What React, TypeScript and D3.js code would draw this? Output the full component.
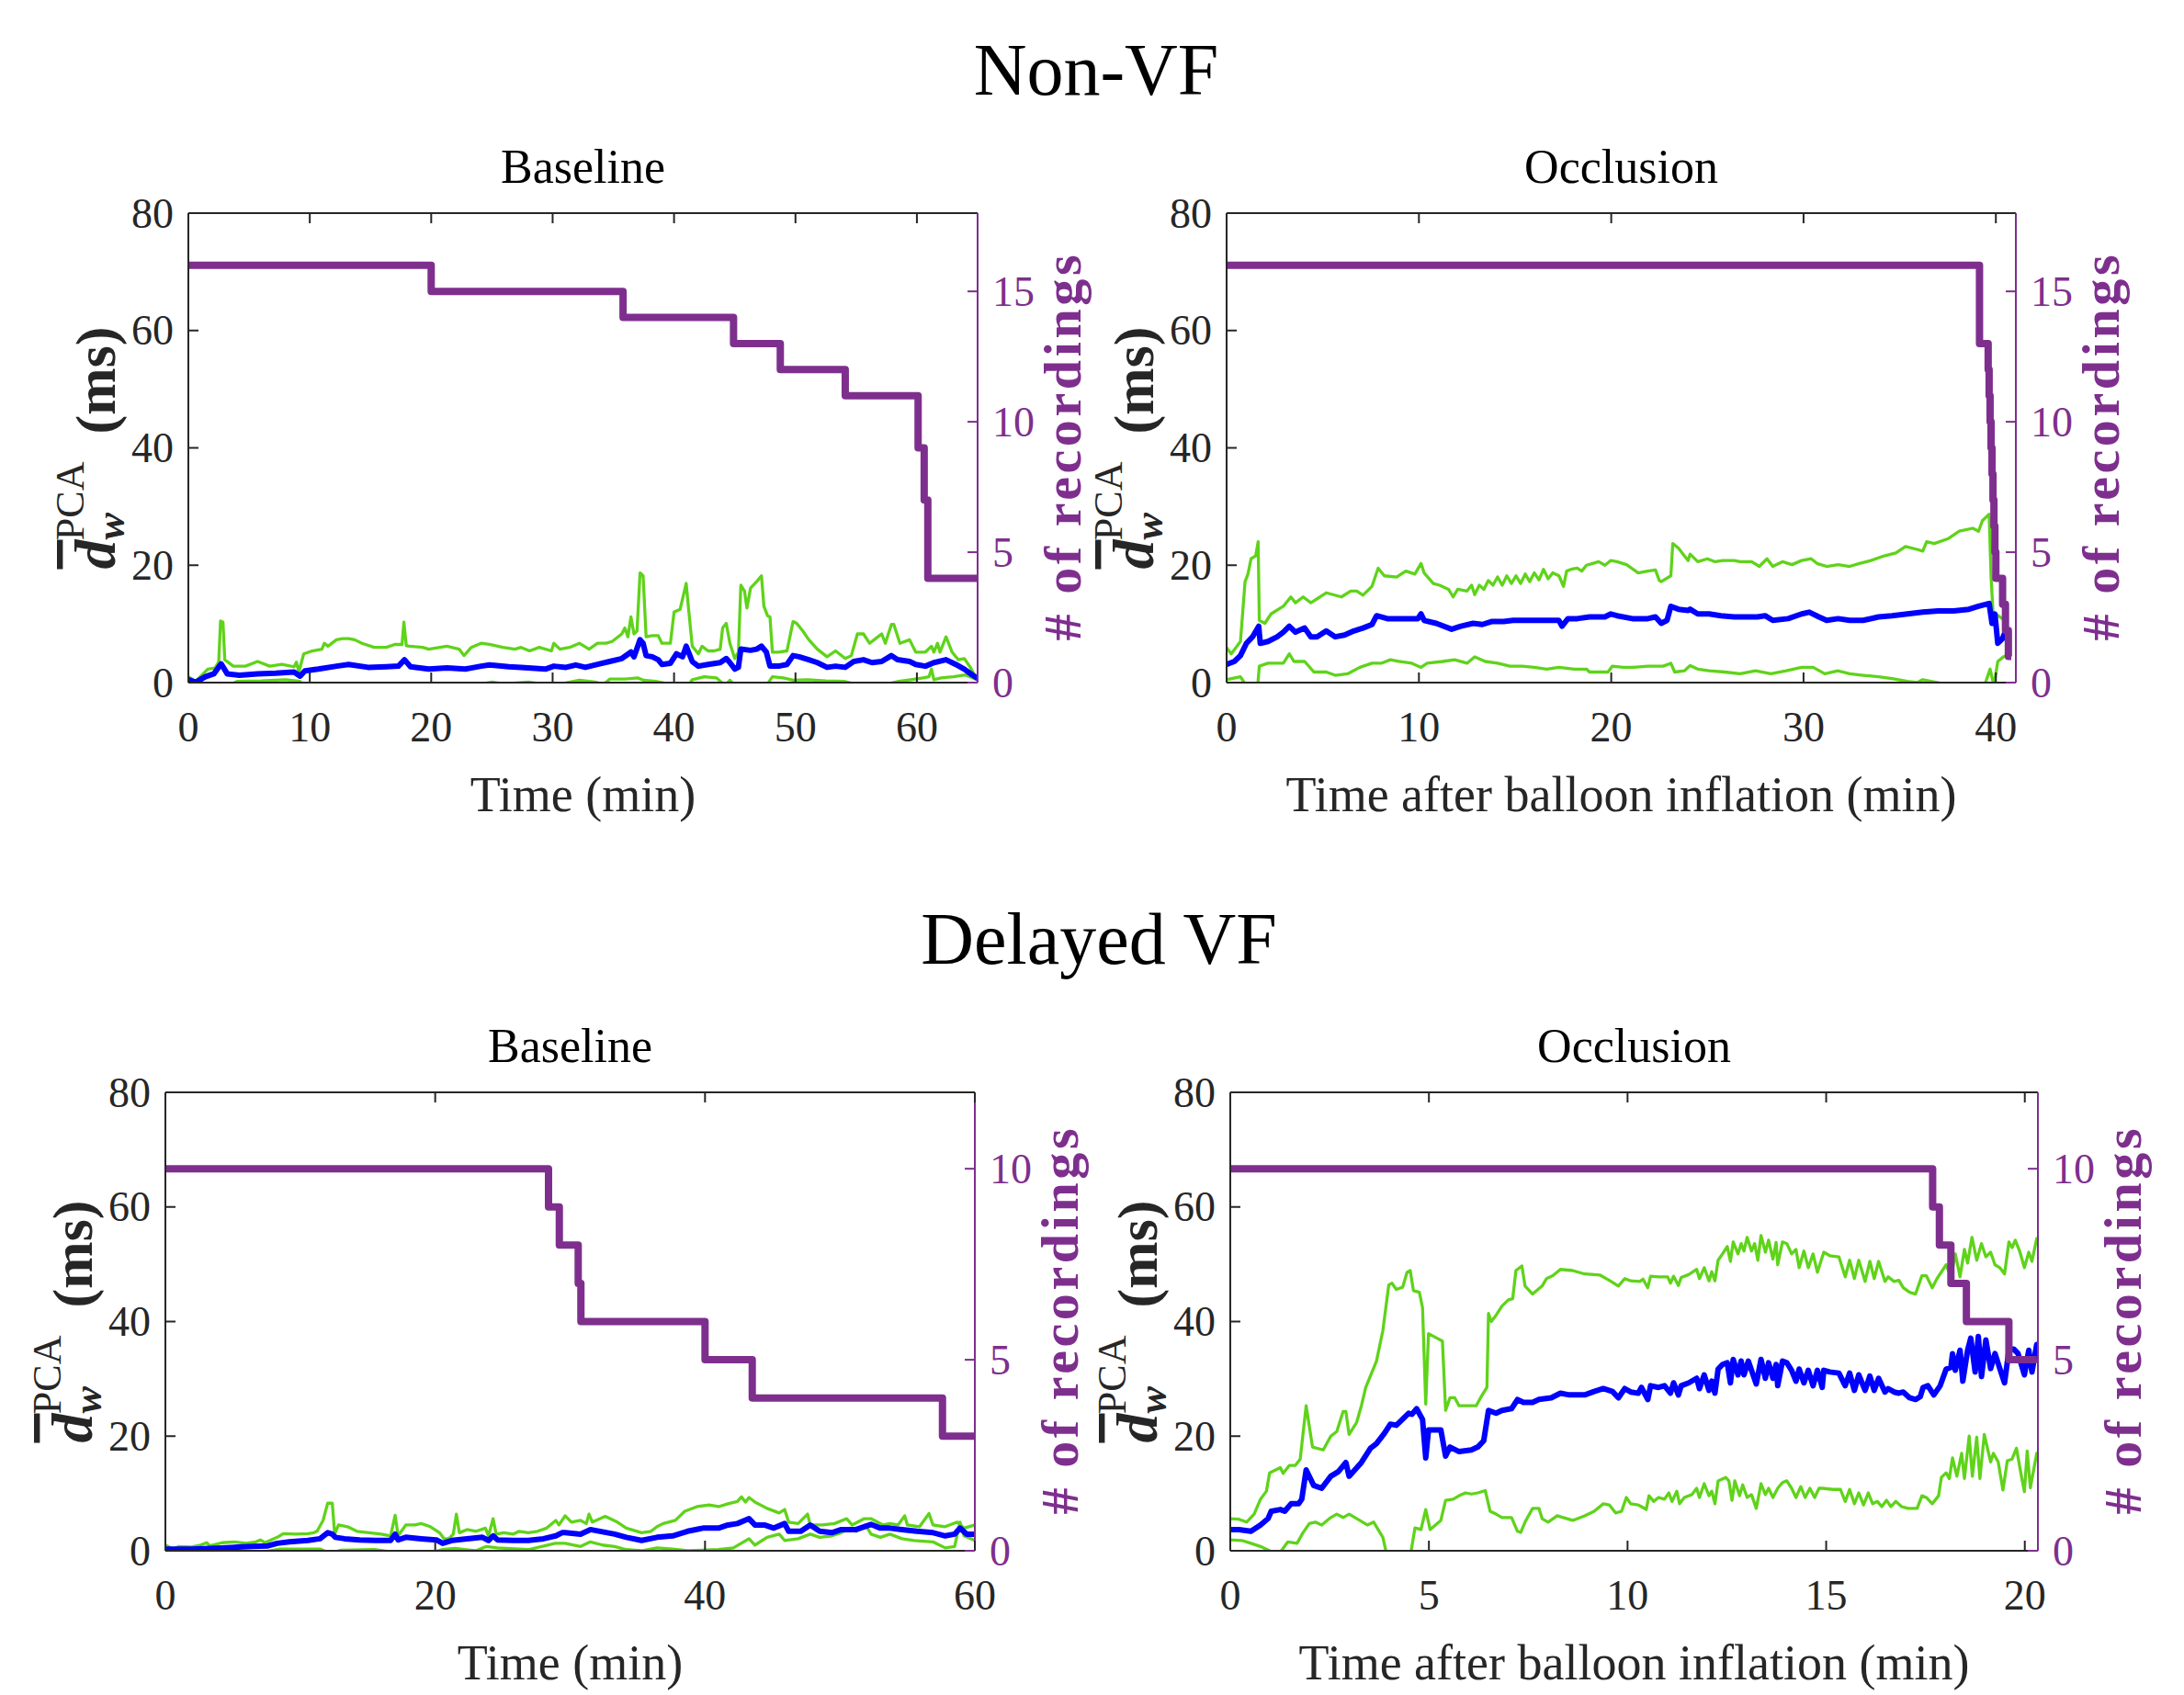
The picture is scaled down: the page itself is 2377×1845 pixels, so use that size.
import React from 'react';
import * as d3 from 'd3';

type Pt = [number, number];

// ---- Non-VF, Baseline ----
const nvBaseUpper: Pt[] = [
  [0, 1.0], [0.6, 0.2], [1.6, 2.3], [2.2, 2.5], [2.5, 3.5], [2.65, 10.5], [2.85, 10.3], [3.0, 3.9], [3.7, 2.8], [4.7, 2.8],
  [5.7, 3.6], [6.7, 2.8], [7.7, 3.1], [8.7, 2.7], [8.9, 3.5], [9.1, 1.8], [9.5, 4.9], [10.2, 5.4], [11.0, 5.7], [11.2, 6.7],
  [11.5, 6.2], [12.2, 7.3], [12.7, 7.5], [13.2, 7.5], [13.7, 7.3], [14.3, 6.7], [15.3, 6.0], [16.3, 6.0], [17.0, 6.5], [17.6, 6.5],
  [17.75, 10.3], [17.95, 6.3], [18.2, 6.2], [19.3, 6.0], [19.8, 5.7], [21.3, 6.2], [22.3, 5.7], [22.7, 4.6], [23.3, 6.0], [24.1, 6.7],
  [24.8, 6.5], [25.9, 6.0], [26.9, 5.7], [27.4, 6.0], [28.1, 5.4], [28.9, 6.0], [29.9, 5.4], [30.1, 6.7], [30.6, 5.7], [31.4, 6.0],
  [32.2, 6.7], [33.0, 5.7], [33.7, 6.7], [34.4, 6.7], [34.9, 7.0], [35.7, 8.3], [35.95, 9.3], [36.2, 7.8], [36.45, 11.2], [36.7, 8.3],
  [36.95, 8.8], [37.2, 18.7], [37.45, 18.2], [37.7, 7.8], [38.2, 8.0], [38.7, 8.0], [39.0, 6.7], [39.7, 6.7], [40.0, 12.0], [40.5, 12.5],
  [41.0, 16.9], [41.2, 12.5], [41.5, 6.2], [42.0, 4.9], [42.3, 6.2], [42.8, 5.4], [43.3, 5.4], [43.8, 5.7], [44.0, 9.3], [44.3, 10.1],
  [44.6, 6.7], [45.0, 4.1], [45.3, 5.2], [45.5, 16.6], [45.8, 15.6], [46.0, 12.7], [46.3, 16.1], [46.8, 17.2], [47.2, 18.2], [47.4, 13.0],
  [47.7, 11.4], [47.9, 11.2], [48.1, 5.2], [48.6, 5.2], [49.3, 5.4], [49.8, 10.4], [50.1, 10.1], [50.6, 8.8], [51.1, 7.3], [51.8, 5.7],
  [52.6, 4.4], [53.3, 5.4], [54.1, 4.1], [54.6, 4.6], [55.1, 8.3], [55.6, 8.3], [56.1, 6.7], [56.6, 7.5], [57.1, 8.3], [57.4, 6.7],
  [57.9, 9.9], [58.1, 9.9], [58.6, 6.7], [59.4, 7.3], [59.9, 5.2], [60.7, 5.2], [61.2, 6.2], [61.4, 5.2], [61.7, 6.7], [61.9, 5.2],
  [62.4, 7.8], [62.9, 5.2], [63.4, 3.9], [63.9, 4.1], [64.4, 2.6], [64.95, 0.5],
];
const nvBaseMean: Pt[] = [
  [0, 0.5], [0.6, 0.05], [1.4, 1.0], [2.1, 1.5], [2.7, 3.2], [3.2, 1.5], [4.2, 1.25], [5.7, 1.5], [7.2, 1.6], [8.7, 1.8],
  [9.2, 1.1], [9.6, 2.0], [10.7, 2.3], [12.2, 2.8], [13.2, 3.1], [14.8, 2.6], [16.3, 2.7], [17.3, 2.8], [17.8, 3.9], [18.3, 2.7],
  [19.8, 2.3], [21.3, 2.5], [22.8, 2.3], [24.1, 2.8], [24.8, 3.0], [26.4, 2.7], [27.4, 2.6], [29.4, 2.3], [30.1, 2.8], [31.1, 2.6],
  [31.9, 3.0], [32.7, 2.6], [33.7, 3.1], [34.7, 3.6], [35.7, 4.1], [36.45, 5.2], [36.7, 4.4], [37.2, 7.3], [37.45, 6.7], [37.7, 4.6],
  [38.2, 4.4], [38.7, 3.9], [39.0, 3.1], [39.7, 3.3], [40.2, 4.9], [40.7, 4.4], [41.0, 6.2], [41.5, 3.6], [42.0, 2.8], [42.8, 3.1],
  [43.8, 3.4], [44.3, 4.1], [44.6, 3.4], [45.0, 2.3], [45.3, 2.6], [45.5, 5.7], [46.3, 5.5], [46.8, 5.7], [47.2, 6.2], [47.6, 5.2],
  [47.9, 2.8], [48.6, 2.8], [49.3, 3.1], [49.8, 4.6], [50.3, 4.4], [51.1, 3.9], [51.8, 3.4], [52.6, 2.6], [53.3, 2.8], [54.1, 2.6],
  [54.8, 3.6], [55.6, 3.9], [56.3, 3.4], [57.1, 3.6], [57.9, 4.6], [58.4, 3.9], [59.4, 3.6], [59.9, 3.1], [60.7, 2.8], [61.4, 3.4],
  [62.4, 3.9], [63.2, 3.1], [63.9, 2.3], [64.6, 1.25], [64.95, 0.8],
];
const nvBaseLower: Pt[] = [
  [0, 0.5], [0.6, -0.5], [3.5, -0.3], [4.0, 0.2], [6.0, 0.3], [8.0, 0.5], [9.2, 0.2], [9.5, -0.5], [15, -1.0], [24, -0.3],
  [25, 0.1], [26, -0.2], [28, 0.1], [30, -0.5], [32.2, 0.4], [33.5, 0.1], [34.2, -0.3], [34.7, 0.6], [36, 0.6], [37, 0.8],
  [37.5, 0.4], [38.5, 0.2], [39.5, -0.2], [41, -1.0], [41.5, 0.5], [42.5, 1.0], [43.5, 0.8], [44.2, -0.5], [44.6, 0.4], [45, -0.5],
  [46, -1.5], [47.5, -0.8], [48.1, 1.0], [49, 0.8], [49.8, 0.4], [51, 0.5], [52.5, 0.3], [54, 0.2], [55, -0.3], [57, -0.5],
  [58.5, 0.2], [59.5, 0.5], [60.5, 0.8], [61, 1.0], [61.2, 2.3], [61.4, 0.5], [62, 0.8], [63, 1.0], [64, 1.3], [64.95, 0.5],
];
const nvBaseCount: Pt[] = [[0, 16], [20.0, 15], [35.8, 14], [44.9, 13], [48.75, 12], [54.1, 11], [60.1, 9], [60.6, 7], [60.9, 4], [65, 4]];

// ---- Non-VF, Occlusion ----
const nvOccUpper: Pt[] = [
  [0, 5.95], [0.24, 4.9], [0.72, 7.0], [0.96, 17.2], [1.11, 18.5], [1.27, 21.1], [1.51, 21.6], [1.64, 24.0], [1.7, 10.6], [1.99, 10.1],
  [2.31, 11.7], [2.95, 13.0], [3.34, 14.6], [3.58, 13.6], [3.98, 14.6], [4.38, 13.6], [4.86, 14.6], [5.18, 15.3], [5.97, 14.6], [6.45, 15.6],
  [6.77, 15.6], [7.09, 14.9], [7.56, 16.4], [7.88, 19.5], [8.2, 18.2], [8.84, 18.0], [9.32, 19.0], [9.79, 18.5], [10.11, 20.3], [10.27, 18.7],
  [10.75, 16.9], [11.07, 16.6], [11.54, 15.9], [11.78, 14.6], [12.02, 15.9], [12.5, 15.6], [12.74, 16.6], [12.9, 15.0], [13.14, 16.6], [13.38, 15.9],
  [13.61, 17.4], [13.85, 16.6], [14.09, 18.0], [14.33, 16.6], [14.57, 18.2], [14.81, 16.9], [15.05, 18.2], [15.29, 16.9], [15.53, 18.5], [15.76, 17.2],
  [16.0, 18.7], [16.24, 17.5], [16.48, 19.3], [16.72, 17.7], [16.96, 18.7], [17.28, 18.2], [17.52, 16.4], [17.68, 19.0], [17.91, 19.3], [18.23, 19.5],
  [18.47, 19.0], [18.71, 20.0], [19.03, 20.3], [19.35, 20.6], [19.67, 20.0], [19.98, 20.8], [20.3, 20.6], [20.8, 20.1], [21.4, 18.7], [21.9, 19.0],
  [22.3, 19.2], [22.5, 17.4], [22.6, 17.2], [23.1, 18.2], [23.2, 23.7], [23.5, 22.9], [23.8, 21.6], [24.0, 20.8], [24.1, 21.9], [24.5, 20.6],
  [25.0, 21.1], [25.4, 20.6], [25.8, 20.8], [26.4, 20.8], [26.7, 20.6], [27.3, 20.6], [27.7, 19.8], [28.1, 21.1], [28.4, 19.8], [28.9, 20.6],
  [29.4, 20.1], [29.9, 20.8], [30.4, 21.1], [30.7, 20.3], [31.2, 19.8], [31.8, 20.1], [32.4, 19.8], [32.9, 20.3], [33.5, 20.8], [34.2, 21.6],
  [34.8, 22.1], [35.3, 23.2], [35.9, 22.7], [36.2, 22.4], [36.4, 24.0], [36.8, 23.7], [37.5, 24.5], [38.1, 25.8], [38.8, 26.3], [39.1, 25.8],
  [39.3, 27.6], [39.65, 28.7], [39.75, 18.2], [39.85, 12.0], [40.2, 11.2], [40.5, 10.5],
];
const nvOccMean: Pt[] = [
  [0, 3.1], [0.4, 3.6], [0.72, 4.6], [1.03, 6.7], [1.35, 7.8], [1.67, 9.6], [1.75, 6.7], [2.15, 7.0], [2.63, 7.8], [2.95, 8.6],
  [3.26, 9.6], [3.58, 8.6], [4.06, 9.3], [4.38, 7.8], [4.7, 7.8], [5.18, 8.8], [5.65, 7.8], [6.13, 8.1], [6.61, 8.8], [7.09, 9.3],
  [7.56, 9.9], [7.8, 11.4], [8.36, 10.9], [9.32, 10.9], [9.95, 10.9], [10.11, 11.7], [10.27, 10.6], [10.9, 10.1], [11.7, 9.1], [12.18, 9.6],
  [12.82, 10.1], [13.3, 9.9], [13.77, 10.4], [14.41, 10.4], [14.89, 10.6], [15.68, 10.6], [16.48, 10.6], [17.28, 10.6], [17.44, 9.6], [17.75, 10.9],
  [18.23, 10.9], [18.87, 11.2], [19.67, 11.2], [19.98, 11.7], [20.3, 11.4], [21.1, 10.9], [21.9, 10.9], [22.3, 11.2], [22.6, 10.1], [22.9, 10.6],
  [23.1, 13.0], [23.5, 12.5], [24.0, 12.3], [24.1, 12.5], [24.5, 11.7], [25.1, 11.7], [25.7, 11.4], [26.4, 11.2], [27.0, 11.2], [27.6, 11.2],
  [28.0, 11.4], [28.4, 10.6], [29.2, 10.9], [29.9, 11.7], [30.3, 12.0], [30.8, 11.2], [31.2, 10.6], [31.8, 10.9], [32.4, 10.6], [33.1, 10.6],
  [33.9, 11.2], [34.6, 11.4], [35.4, 11.7], [36.2, 12.0], [37.0, 12.2], [37.8, 12.2], [38.6, 12.5], [39.1, 13.0], [39.65, 13.5], [39.8, 10.1],
  [39.95, 11.7], [40.1, 6.7], [40.35, 7.5], [40.5, 8.8],
];
const nvOccLower: Pt[] = [
  [0, 0.5], [0.72, 1.0], [0.88, 0.2], [0.96, -1.6], [1.59, -1.6], [1.7, 2.8], [2.15, 3.3], [2.95, 3.3], [3.26, 4.9], [3.5, 3.6],
  [4.06, 3.6], [4.54, 1.8], [5.18, 1.8], [5.65, 1.25], [6.29, 1.5], [6.93, 2.6], [7.56, 3.3], [8.04, 3.3], [8.52, 3.9], [9.0, 3.6],
  [9.63, 3.3], [10.11, 2.6], [10.43, 3.3], [11.23, 3.6], [11.86, 3.9], [12.5, 3.3], [12.9, 4.4], [13.45, 3.6], [14.09, 3.3], [14.73, 2.8],
  [15.37, 2.8], [16.0, 2.6], [16.64, 2.3], [17.28, 2.6], [18.07, 2.3], [18.71, 2.3], [18.87, 1.8], [19.83, 1.8], [20.06, 2.8], [20.62, 2.6],
  [21.1, 2.6], [21.9, 2.8], [22.7, 2.8], [23.1, 3.3], [23.3, 1.8], [23.8, 2.0], [24.1, 2.9], [24.5, 2.3], [25.1, 2.0], [25.9, 1.8],
  [26.7, 1.5], [27.5, 2.0], [28.3, 1.5], [29.1, 2.0], [29.9, 2.6], [30.5, 2.6], [31.1, 1.5], [31.8, 2.0], [32.4, 1.5], [33.1, 1.25],
  [33.9, 1.0], [34.6, 0.7], [35.4, 0.2], [35.9, 0], [36.2, 0.5], [37.0, 0], [37.8, -0.6], [39.4, -0.6], [39.7, 2.3], [39.9, -0.5],
  [40.1, 3.6], [40.4, 4.4], [40.7, 4.9],
];
const nvOccCount: Pt[] = [
  [0, 16], [39.15, 13], [39.6, 12], [39.65, 11], [39.7, 10], [39.75, 9], [39.8, 8], [39.85, 7], [39.9, 6], [39.95, 5],
  [40.0, 4], [40.35, 3], [40.5, 2], [40.65, 1], [40.8, 1],
];

// ---- Delayed VF, Baseline ----
const dvBaseUpper: Pt[] = [
  [0, 1.0], [0.57, 0.3], [1.02, 0.75], [1.93, 0.65], [2.61, 1.0], [3.06, 1.4], [3.29, 0.85], [4.2, 1.4], [5.1, 1.55], [6.0, 1.3],
  [6.7, 1.55], [7.04, 1.9], [7.38, 1.4], [7.83, 1.9], [8.29, 2.35], [8.74, 3.0], [9.65, 2.9], [10.56, 3.0], [11.01, 3.15], [11.24, 3.4],
  [11.69, 5.3], [12.03, 8.3], [12.37, 8.3], [12.55, 2.9], [12.83, 4.5], [13.5, 4.2], [14.19, 3.4], [15.1, 3.15], [16.0, 2.9], [16.69, 2.6],
  [17.03, 6.2], [17.25, 2.6], [17.82, 4.5], [18.5, 4.5], [18.96, 4.75], [19.64, 4.2], [20.32, 3.15], [20.66, 2.1], [21.0, 2.1], [21.34, 2.9],
  [21.57, 6.4], [21.79, 3.15], [22.36, 3.7], [23.04, 3.4], [23.72, 3.95], [23.95, 2.6], [24.29, 5.6], [24.52, 2.9], [25.08, 3.15], [25.77, 2.9],
  [26.22, 3.4], [26.9, 3.15], [27.58, 3.4], [28.26, 3.95], [28.94, 5.3], [29.17, 4.5], [29.63, 6.1], [30.1, 5.0], [30.77, 5.3], [31.2, 4.75],
  [31.4, 6.4], [31.65, 5.0], [32.6, 6.0], [33.5, 5.0], [34.17, 3.95], [35.3, 3.15], [36.0, 3.4], [36.44, 4.2], [36.9, 4.75], [37.8, 5.3],
  [38.5, 6.9], [39.4, 7.7], [40.3, 8.0], [41.0, 7.7], [41.7, 8.2], [42.4, 8.6], [42.7, 9.4], [43.0, 8.5], [43.26, 9.3], [43.7, 8.5],
  [44.6, 7.4], [45.5, 6.6], [45.9, 7.2], [46.2, 5.0], [46.9, 4.75], [47.6, 6.4], [47.8, 4.5], [48.7, 4.5], [49.6, 4.75], [50.5, 5.6],
  [50.9, 4.5], [51.8, 5.6], [52.3, 5.6], [53.2, 4.5], [53.7, 4.75], [54.3, 4.5], [54.8, 6.1], [55.0, 4.5], [55.9, 4.2], [56.6, 6.5],
  [56.9, 4.5], [57.8, 4.2], [58.7, 5.0], [59.2, 3.95], [60.0, 4.5],
];
const dvBaseMean: Pt[] = [
  [0, 0.3], [1.93, 0.3], [4.2, 0.5], [6.47, 0.75], [7.6, 0.85], [8.29, 1.3], [9.2, 1.55], [10.56, 1.8], [11.46, 2.1], [12.03, 3.15],
  [12.37, 2.9], [12.6, 2.35], [13.28, 2.1], [14.4, 1.9], [15.55, 1.8], [16.69, 1.8], [17.03, 2.9], [17.25, 1.9], [17.82, 2.35], [18.96, 2.1],
  [20.09, 1.9], [20.55, 1.3], [21.23, 1.8], [22.36, 2.1], [23.5, 2.35], [23.95, 1.8], [24.29, 2.6], [24.63, 1.9], [25.77, 1.8], [26.9, 1.8],
  [28.03, 2.1], [28.94, 2.6], [29.4, 3.15], [29.63, 3.15], [30.77, 2.9], [31.5, 3.7], [32.4, 3.3], [33.3, 2.9], [34.17, 2.35], [35.3, 1.8],
  [36.44, 2.35], [37.6, 2.6], [38.7, 3.4], [39.85, 3.95], [41.0, 3.95], [41.7, 4.5], [42.4, 4.75], [43.26, 5.6], [43.7, 4.5], [44.4, 4.5],
  [45.1, 3.95], [45.9, 4.75], [46.2, 3.4], [47.1, 3.4], [47.8, 4.5], [48.5, 3.4], [49.4, 3.15], [50.1, 3.7], [51.2, 3.7], [52.3, 4.6],
  [53.0, 3.95], [53.7, 3.95], [54.6, 3.7], [55.7, 3.4], [56.9, 3.15], [57.8, 2.6], [58.5, 2.9], [58.9, 3.95], [59.4, 2.9], [60.0, 2.9],
];
const dvBaseLower: Pt[] = [
  [0, 0.85], [0.57, 0], [2, -0.3], [4, -0.5], [7, -0.3], [8.5, 0.3], [11.5, 0.3], [12.2, -0.5], [13, 0.1], [15.5, 0.2],
  [17, -0.3], [19.5, -0.5], [20.5, 0.2], [21.5, 0.4], [23, 0], [23.8, 0.75], [24.6, 0.5], [26.9, 0.2], [28.9, 1.3], [29.63, 1.3],
  [30.77, 0.75], [31.5, 1.55], [32.4, 1.0], [33.3, 0.75], [34.17, 0.2], [35.3, 0], [36.44, 0.5], [37.58, 0.3], [38.71, 0], [40.98, 0.2],
  [42.1, 0.5], [43.26, 2.1], [43.7, 1.0], [44.6, 2.35], [45.5, 2.9], [45.9, 1.8], [46.9, 2.1], [47.8, 2.9], [48.5, 2.35], [49.4, 2.6],
  [50.1, 3.15], [50.8, 3.95], [51.2, 3.4], [51.9, 4.5], [52.3, 2.9], [53.0, 2.35], [53.7, 2.9], [54.6, 2.1], [55.5, 1.8], [56.9, 1.55],
  [57.8, 0.5], [58.5, 0.75], [58.9, 5.0], [59.2, 2.6], [60.0, 1.8],
];
const dvBaseCount: Pt[] = [[0, 10], [28.4, 9], [29.2, 8], [30.6, 7], [30.8, 6], [40.0, 5], [43.5, 4], [57.6, 3], [60, 3]];

// ---- Delayed VF, Occlusion ----
const dvOccUpper: Pt[] = [
  [0, 5.6], [0.22, 5.5], [0.41, 5.0], [0.6, 6.4], [0.76, 9.0], [0.91, 10.4], [0.99, 13.6], [1.26, 14.5], [1.33, 13.5], [1.49, 14.9],
  [1.64, 14.9], [1.76, 16.0], [1.91, 25.3], [2.07, 18.1], [2.34, 17.6], [2.53, 20.0], [2.68, 20.8], [2.84, 24.3], [2.91, 24.3], [2.99, 20.3],
  [3.18, 22.4], [3.3, 25.3], [3.41, 28.5], [3.68, 33.1], [3.84, 38.4], [3.99, 46.4], [4.07, 46.7], [4.18, 45.6], [4.34, 46.0], [4.45, 48.6],
  [4.53, 48.9], [4.61, 45.4], [4.76, 45.1], [4.84, 42.4], [4.92, 25.6], [4.99, 37.9], [5.15, 37.3], [5.34, 36.6], [5.42, 24.5], [5.53, 26.7],
  [5.65, 26.7], [5.76, 25.3], [6.19, 25.3], [6.3, 26.7], [6.46, 28.5], [6.5, 41.4], [6.57, 40.0], [6.69, 41.1], [6.84, 42.7], [7.0, 43.8],
  [7.11, 44.0], [7.19, 48.9], [7.34, 49.7], [7.42, 46.2], [7.61, 44.8], [7.85, 46.2], [7.96, 47.5], [8.12, 48.0], [8.31, 49.1], [8.62, 48.9],
  [8.92, 48.3], [9.31, 48.1], [9.54, 47.2], [9.77, 46.2], [9.93, 47.5], [10.08, 47.1], [10.31, 47.0], [10.39, 47.4], [10.51, 45.9], [10.58, 47.9],
  [10.78, 47.8], [11.01, 47.8], [11.08, 46.7], [11.16, 47.9], [11.28, 46.3], [11.35, 47.7], [11.54, 48.2], [11.74, 49.1], [11.81, 47.5], [11.93, 49.4],
  [12.05, 47.1], [12.12, 48.7], [12.2, 47.1], [12.28, 50.7], [12.39, 51.8], [12.51, 53.1], [12.59, 50.5], [12.66, 53.9], [12.78, 51.8], [12.86, 53.6],
  [12.93, 52.3], [13.01, 54.7], [13.12, 52.3], [13.2, 53.6], [13.28, 50.7], [13.36, 55.0], [13.47, 52.1], [13.55, 54.2], [13.66, 50.9], [13.74, 53.8],
  [13.78, 49.9], [13.9, 53.9], [14.01, 53.6], [14.13, 51.8], [14.24, 52.6], [14.32, 49.4], [14.44, 52.3], [14.55, 49.4], [14.67, 51.8], [14.78, 48.6],
  [14.94, 52.1], [15.09, 51.5], [15.32, 51.3], [15.48, 47.8], [15.59, 50.7], [15.71, 47.5], [15.82, 50.7], [15.98, 47.0], [16.1, 50.5], [16.21, 47.5],
  [16.32, 50.5], [16.48, 47.0], [16.56, 47.8], [16.71, 47.0], [16.83, 47.2], [16.94, 45.9], [17.1, 45.1], [17.25, 44.8], [17.41, 48.0], [17.52, 48.0],
  [17.67, 45.9], [17.79, 47.5], [18.02, 49.9], [18.14, 47.8], [18.25, 51.8], [18.37, 47.8], [18.48, 52.6], [18.56, 50.2], [18.67, 54.7], [18.79, 50.7],
  [18.91, 53.6], [19.02, 51.3], [19.14, 52.1], [19.25, 49.9], [19.37, 49.4], [19.49, 48.3], [19.6, 53.9], [19.68, 52.9], [19.76, 54.2], [19.87, 52.3],
  [19.99, 49.4], [20.1, 52.1], [20.18, 50.5], [20.3, 54.5],
];
const dvOccMean: Pt[] = [
  [0, 3.7], [0.22, 3.7], [0.52, 3.4], [0.76, 4.5], [0.95, 5.6], [1.03, 6.9], [1.26, 7.2], [1.37, 6.9], [1.53, 8.2], [1.72, 8.2],
  [1.8, 9.0], [1.91, 14.1], [2.1, 11.4], [2.3, 10.9], [2.53, 13.0], [2.72, 13.8], [2.91, 15.4], [2.99, 13.0], [3.3, 15.4], [3.53, 17.9],
  [3.68, 18.7], [3.88, 20.5], [4.03, 22.1], [4.18, 21.9], [4.3, 22.7], [4.49, 24.0], [4.57, 23.8], [4.69, 24.8], [4.84, 22.9], [4.92, 16.2],
  [4.99, 21.1], [5.3, 21.1], [5.42, 16.5], [5.53, 18.1], [5.76, 17.3], [6.07, 17.6], [6.23, 18.1], [6.38, 19.2], [6.5, 24.5], [6.69, 24.0],
  [6.84, 24.5], [7.08, 24.8], [7.23, 26.4], [7.38, 25.9], [7.61, 25.9], [7.77, 26.4], [8.08, 26.7], [8.31, 27.5], [8.54, 27.2], [8.92, 27.2],
  [9.16, 27.8], [9.39, 28.3], [9.62, 27.8], [9.77, 26.7], [9.93, 28.3], [10.08, 27.7], [10.27, 27.5], [10.35, 28.5], [10.51, 26.4], [10.58, 28.8],
  [10.78, 28.5], [10.93, 28.8], [11.08, 27.5], [11.16, 29.3], [11.28, 27.2], [11.35, 28.8], [11.54, 29.3], [11.74, 30.1], [11.81, 28.3], [11.93, 30.7],
  [12.05, 28.0], [12.12, 29.6], [12.2, 27.5], [12.28, 31.7], [12.39, 32.5], [12.51, 32.8], [12.59, 29.3], [12.66, 33.4], [12.78, 30.7], [12.86, 33.1],
  [12.93, 30.7], [13.04, 33.1], [13.24, 29.1], [13.36, 33.4], [13.47, 30.1], [13.55, 32.8], [13.66, 30.1], [13.74, 32.5], [13.78, 28.8], [13.9, 33.1],
  [14.01, 32.8], [14.13, 31.5], [14.24, 29.6], [14.32, 31.7], [14.44, 29.3], [14.55, 31.5], [14.67, 28.8], [14.78, 31.5], [14.9, 28.5], [14.94, 31.5],
  [15.09, 31.2], [15.32, 31.0], [15.48, 28.8], [15.59, 31.0], [15.71, 28.0], [15.82, 30.7], [15.98, 28.0], [16.1, 30.5], [16.21, 28.0], [16.32, 30.1],
  [16.48, 27.7], [16.56, 28.3], [16.71, 27.7], [16.83, 27.5], [16.94, 27.7], [17.1, 26.7], [17.25, 26.4], [17.37, 26.9], [17.44, 28.5], [17.56, 28.8],
  [17.71, 27.2], [17.87, 28.8], [18.02, 31.7], [18.14, 32.0], [18.18, 34.4], [18.25, 31.5], [18.37, 35.0], [18.44, 29.6], [18.56, 35.0], [18.64, 37.1],
  [18.75, 31.2], [18.83, 37.4], [18.91, 30.4], [19.02, 36.8], [19.14, 31.8], [19.25, 34.4], [19.37, 31.8], [19.49, 29.3], [19.6, 35.0], [19.72, 35.2],
  [19.83, 34.4], [19.99, 30.7], [20.1, 35.0], [20.18, 31.2], [20.3, 36.0],
];
const dvOccLower: Pt[] = [
  [0, 1.9], [0.29, 1.8], [0.52, 1.3], [0.76, 0.75], [0.99, 0], [1.22, -0.6], [1.45, 1.55], [1.68, 1.3], [1.83, 3.15], [1.99, 4.75],
  [2.14, 5.0], [2.3, 4.5], [2.53, 5.8], [2.68, 6.4], [2.84, 5.8], [2.99, 6.4], [3.14, 5.8], [3.45, 4.5], [3.61, 5.0], [3.84, 2.35],
  [3.95, -1], [4.2, -3], [4.53, -1], [4.65, 4.0], [4.8, 3.7], [4.92, 7.2], [5.03, 3.7], [5.3, 5.3], [5.42, 8.8], [5.61, 9.0],
  [5.76, 9.6], [5.92, 10.1], [6.07, 9.9], [6.23, 10.1], [6.42, 10.5], [6.54, 6.9], [6.69, 6.4], [6.84, 5.8], [7.08, 5.8], [7.23, 3.4],
  [7.31, 3.2], [7.42, 5.0], [7.61, 7.4], [7.77, 7.4], [7.85, 5.6], [8.0, 5.0], [8.23, 6.1], [8.38, 5.8], [8.62, 5.3], [8.92, 6.1],
  [9.16, 6.9], [9.39, 8.2], [9.54, 8.0], [9.7, 6.6], [9.85, 6.9], [9.97, 9.3], [10.08, 8.2], [10.27, 8.0], [10.35, 7.7], [10.47, 7.2],
  [10.54, 9.6], [10.66, 8.6], [10.78, 9.3], [10.93, 9.0], [11.04, 10.1], [11.12, 8.6], [11.24, 10.4], [11.31, 8.2], [11.43, 9.3], [11.62, 9.8],
  [11.74, 10.9], [11.81, 9.3], [11.93, 11.7], [12.05, 9.6], [12.12, 10.4], [12.2, 8.2], [12.28, 12.2], [12.47, 12.8], [12.55, 12.2], [12.63, 8.8],
  [12.7, 12.2], [12.82, 9.6], [12.9, 11.5], [13.01, 9.3], [13.12, 9.8], [13.24, 7.4], [13.36, 11.7], [13.47, 9.8], [13.55, 10.9], [13.66, 9.3],
  [13.78, 10.9], [13.9, 11.9], [14.01, 12.2], [14.13, 10.9], [14.24, 9.3], [14.36, 11.2], [14.47, 9.3], [14.59, 10.9], [14.71, 9.3], [14.82, 10.9],
  [14.9, 10.9], [15.17, 10.7], [15.36, 10.7], [15.48, 8.6], [15.59, 10.7], [15.71, 8.2], [15.82, 10.1], [15.94, 8.0], [16.06, 10.1], [16.17, 8.2],
  [16.29, 8.6], [16.4, 7.7], [16.52, 8.8], [16.63, 7.7], [16.75, 8.6], [16.9, 7.7], [17.06, 7.4], [17.29, 7.4], [17.41, 9.6], [17.52, 9.3],
  [17.67, 8.2], [17.83, 9.6], [17.9, 12.8], [18.02, 13.6], [18.1, 12.6], [18.18, 16.2], [18.29, 13.0], [18.41, 17.0], [18.48, 12.6], [18.6, 20.0],
  [18.68, 13.0], [18.79, 19.8], [18.87, 12.6], [18.98, 20.3], [19.14, 15.5], [19.21, 17.0], [19.33, 15.5], [19.45, 10.6], [19.56, 15.7], [19.68, 16.0],
  [19.79, 17.9], [19.91, 13.2], [19.99, 10.3], [20.06, 17.4], [20.14, 11.0], [20.3, 17.0],
];
const dvOccCount: Pt[] = [[0, 10], [17.68, 9], [17.85, 8], [18.14, 7], [18.53, 6], [19.6, 5], [20.3, 5]];

const leftTicks = [0, 20, 40, 60, 80];

const GREEN = '#5fd31a';
const BLUE = '#0000ff';
const PURPLE = '#7e2f8e';
const AXIS = '#262626';
const FONT = "'Liberation Serif', 'Times New Roman', serif";

type Box = { l: number; r: number; t: number; b: number };

type PanelProps = {
  id: string;
  box: Box;
  xMax: number;
  xTicks: number[];
  rMax: number;
  rTicks: number[];
  title: string;
  xLabel: string;
  upper: Pt[];
  mean: Pt[];
  lower: Pt[];
  count: Pt[];
};

function Panel({ id, box, xMax, xTicks, rMax, rTicks, title, xLabel, upper, mean, lower, count }: PanelProps) {
  const x = d3.scaleLinear().domain([0, xMax]).range([box.l, box.r]);
  const y = d3.scaleLinear().domain([0, 80]).range([box.b, box.t]);
  const yr = d3.scaleLinear().domain([0, rMax]).range([box.b, box.t]);
  const line = d3.line<Pt>().x(d => x(d[0])).y(d => y(d[1]));
  const step = d3.line<Pt>().x(d => x(d[0])).y(d => yr(d[1])).curve(d3.curveStepAfter);
  const cx = (box.l + box.r) / 2;
  const cy = (box.t + box.b) / 2;
  const tl = 11;

  return (
    <g>
      <defs>
        <clipPath id={id}>
          <rect x={box.l} y={box.t} width={box.r - box.l} height={box.b - box.t} />
        </clipPath>
      </defs>
      <g clipPath={`url(#${id})`} fill="none" strokeLinejoin="round" strokeLinecap="round">
        <path d={line(upper) || ''} stroke={GREEN} strokeWidth={3.3} />
        <path d={line(lower) || ''} stroke={GREEN} strokeWidth={3.3} />
        <path d={line(mean) || ''} stroke={BLUE} strokeWidth={6} />
        <path d={step(count) || ''} stroke={PURPLE} strokeWidth={8} strokeLinecap="butt" />
      </g>

      {/* box */}
      <line x1={box.l} x2={box.r} y1={box.b} y2={box.b} stroke={AXIS} strokeWidth={2} />
      <line x1={box.l} x2={box.r} y1={box.t} y2={box.t} stroke={AXIS} strokeWidth={2} />
      <line x1={box.l} x2={box.l} y1={box.t} y2={box.b} stroke={AXIS} strokeWidth={2} />
      <line x1={box.r} x2={box.r} y1={box.t} y2={box.b} stroke={PURPLE} strokeWidth={2} />

      {xTicks.map(t => (
        <g key={`x${t}`}>
          <line x1={x(t)} x2={x(t)} y1={box.b} y2={box.b - tl} stroke={AXIS} strokeWidth={2} />
          <line x1={x(t)} x2={x(t)} y1={box.t} y2={box.t + tl} stroke={AXIS} strokeWidth={2} />
          <text x={x(t)} y={box.b + 64} textAnchor="middle" fontSize={46} fill={AXIS} fontFamily={FONT}>{t}</text>
        </g>
      ))}
      {leftTicks.map(t => (
        <g key={`y${t}`}>
          <line x1={box.l} x2={box.l + tl} y1={y(t)} y2={y(t)} stroke={AXIS} strokeWidth={2} />
          <text x={box.l - 16} y={y(t)} dy="0.34em" textAnchor="end" fontSize={46} fill={AXIS} fontFamily={FONT}>{t}</text>
        </g>
      ))}
      {rTicks.map(t => (
        <g key={`r${t}`}>
          <line x1={box.r} x2={box.r - tl} y1={yr(t)} y2={yr(t)} stroke={PURPLE} strokeWidth={2} />
          <text x={box.r + 16} y={yr(t)} dy="0.34em" textAnchor="start" fontSize={46} fill={PURPLE} fontFamily={FONT}>{t}</text>
        </g>
      ))}

      <text x={cx} y={box.t - 33} textAnchor="middle" fontSize={52} fill="#000" fontFamily={FONT}>{title}</text>
      <text x={cx} y={box.b + 140} textAnchor="middle" fontSize={54} fill={AXIS} fontFamily={FONT}>{xLabel}</text>

      <text transform={`translate(${box.l - 80},${cy}) rotate(-90)`} textAnchor="middle" fontSize={64} fill={AXIS} fontFamily={FONT}>
        <tspan fontWeight="bold" fontStyle="italic" textDecoration="overline">d</tspan>
        <tspan fontSize={44} fontWeight="bold" fontStyle="italic" dy={10}>w</tspan>
        <tspan fontSize={44} dx={-30} dy={-44}>PCA</tspan>
        <tspan fontSize={62} fontWeight="bold" dx={30} dy={34}>(ms)</tspan>
      </text>
      <text transform={`translate(${box.r + 112},${cy}) rotate(-90)`} textAnchor="middle" fontSize={58} fontWeight="bold" fill={PURPLE} fontFamily={FONT} textLength={420} lengthAdjust="spacing">
        # of recordings
      </text>
    </g>
  );
}

export default function App() {
  return (
    <svg width={2377} height={1845} style={{ position: 'absolute', left: 0, top: 0, background: '#fff' }}>
      <rect width={2377} height={1845} fill="#fff" />
      <text x={1193} y={103} textAnchor="middle" fontSize={80} fill="#000" fontFamily={FONT}>Non-VF</text>
      <text x={1196} y={1049} textAnchor="middle" fontSize={80} fill="#000" fontFamily={FONT}>Delayed VF</text>
      <Panel id="c1" box={{ l: 205, r: 1064, t: 232, b: 743 }} xMax={65} xTicks={[0, 10, 20, 30, 40, 50, 60]}
        rMax={18} rTicks={[0, 5, 10, 15]} title="Baseline" xLabel="Time (min)"
        upper={nvBaseUpper} mean={nvBaseMean} lower={nvBaseLower} count={nvBaseCount} />
      <Panel id="c2" box={{ l: 1335, r: 2194, t: 232, b: 743 }} xMax={41.04} xTicks={[0, 10, 20, 30, 40]}
        rMax={18} rTicks={[0, 5, 10, 15]} title="Occlusion" xLabel="Time after balloon inflation (min)"
        upper={nvOccUpper} mean={nvOccMean} lower={nvOccLower} count={nvOccCount} />
      <Panel id="c3" box={{ l: 180, r: 1061, t: 1189, b: 1688 }} xMax={60} xTicks={[0, 20, 40, 60]}
        rMax={12} rTicks={[0, 5, 10]} title="Baseline" xLabel="Time (min)"
        upper={dvBaseUpper} mean={dvBaseMean} lower={dvBaseLower} count={dvBaseCount} />
      <Panel id="c4" box={{ l: 1339, r: 2218, t: 1189, b: 1688 }} xMax={20.33} xTicks={[0, 5, 10, 15, 20]}
        rMax={12} rTicks={[0, 5, 10]} title="Occlusion" xLabel="Time after balloon inflation (min)"
        upper={dvOccUpper} mean={dvOccMean} lower={dvOccLower} count={dvOccCount} />
    </svg>
  );
}
